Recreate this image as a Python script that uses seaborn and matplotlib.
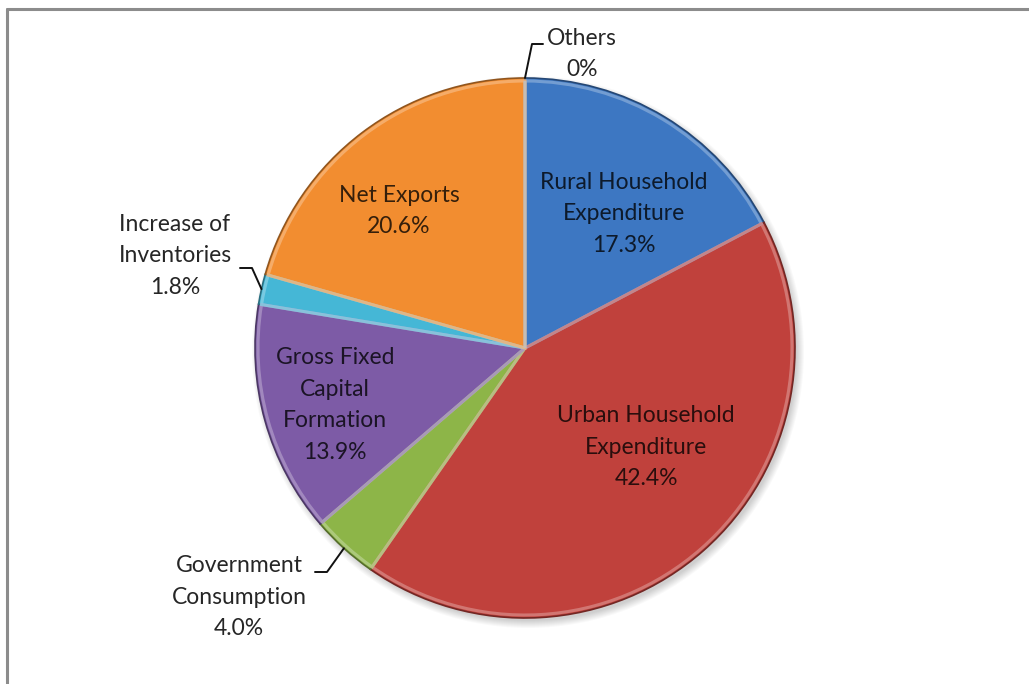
import numpy as np
import matplotlib
matplotlib.use("Agg")
import matplotlib.pyplot as plt
import matplotlib.colors as mcolors
from matplotlib.lines import Line2D
import seaborn as sns

# GDP expenditure composition (%)
categories = ["Rural Household\nExpenditure", "Urban Household\nExpenditure",
              "Government\nConsumption", "Gross Fixed\nCapital\nFormation",
              "Increase of\nInventories", "Net Exports", "Others"]
shares = [17.3, 42.4, 4.0, 13.9, 1.8, 20.6, 0.0]
value_labels = ["17.3%", "42.4%", "4.0%", "13.9%", "1.8%", "20.6%", "0%"]

colors = ["#3D77C2", "#C0413C", "#8DB548", "#7D5BA6", "#45B7D6", "#F28D30", "#A0A0A0"]

sns.set_theme(style="white")
plt.rcParams["font.family"] = ["Lato", "DejaVu Sans"]

W, H = 1029, 684
fig = plt.figure(figsize=(W / 100, H / 100), dpi=100)
ax = fig.add_axes([0, 0, 1, 1])
ax.set_xlim(0, W)
ax.set_ylim(0, H)
ax.set_aspect("equal")
ax.axis("off")

cx, cy, R = 525, H - 348, 270


def darker(c, f):
    r, g, b = mcolors.to_rgb(c)
    return (r * f, g * f, b * f)


def lighter(c, f):
    r, g, b = mcolors.to_rgb(c)
    return (r + (1 - r) * f, g + (1 - g) * f, b + (1 - b) * f)


# soft drop shadow under the pie
for k in range(8):
    ax.add_patch(plt.Circle((cx + 3, cy - 4), R + 6 - k, color="#000000",
                            alpha=0.025, lw=0, zorder=0))

wedges, _ = ax.pie(shares, colors=colors, startangle=90, counterclock=False,
                   center=(cx, cy), radius=R, frame=True,
                   wedgeprops=dict(linewidth=1.2, edgecolor="#00000000"))
for w, c in zip(wedges, colors):
    w.set_edgecolor(darker(c, 0.6))
    w.set_zorder(2)

# bevel highlight just inside each wedge outline
hl, _ = ax.pie(shares, colors=["none"] * len(shares), startangle=90,
               counterclock=False, center=(cx, cy), radius=R - 3, frame=True)
for w, c in zip(hl, colors):
    w.set_facecolor("none")
    w.set_edgecolor(lighter(c, 0.35))
    w.set_linewidth(2.2)
    w.set_alpha(0.8)
    w.set_zorder(3)

ax.set_xlim(0, W)
ax.set_ylim(0, H)
ax.axis("off")

fs = 16.5
ls = 1.62
# labels drawn inside their wedges
inner_pos = {0: (624, 214), 1: (646, 447), 3: (335, 405), 5: (399, 211)}
for i, (px, py) in inner_pos.items():
    ax.text(px, H - py, f"{categories[i]}\n{value_labels[i]}", ha="center",
            va="center", fontsize=fs, color=darker(colors[i], 0.22),
            linespacing=ls, zorder=5)

# labels placed outside with leader lines from the wedge rim
outer = {
    6: dict(text_xy=(582, 54), elbow=(532, 44), end=(543, 44)),
    4: dict(text_xy=(175, 256), elbow=(252, 268), end=(240, 268)),
    2: dict(text_xy=(239, 597), elbow=(327, 572), end=(315, 572)),
}
for i, o in outer.items():
    w = wedges[i]
    mid = np.deg2rad((w.theta1 + w.theta2) / 2)
    sx, sy = cx + R * np.cos(mid), cy + R * np.sin(mid)
    ex, ey = o["elbow"]
    tx, ty = o["end"]
    ax.add_line(Line2D([sx, ex, tx], [sy, H - ey, H - ty], color="#111111",
                       lw=1.4, zorder=6))
    ax.text(o["text_xy"][0], H - o["text_xy"][1],
            f"{categories[i]}\n{value_labels[i]}", ha="center", va="center",
            fontsize=fs, color="#262626", linespacing=ls, zorder=6)

# chart frame (top and left edges inside the image)
fig.add_artist(Line2D([7 / W, 1.0], [1 - 9 / H, 1 - 9 / H],
                      transform=fig.transFigure, color="#8C8C8C", lw=2.2))
fig.add_artist(Line2D([7 / W, 7 / W], [1 - 9 / H, 0.0],
                      transform=fig.transFigure, color="#8C8C8C", lw=2.2))

fig.savefig("out.png", dpi=100, facecolor="white")
